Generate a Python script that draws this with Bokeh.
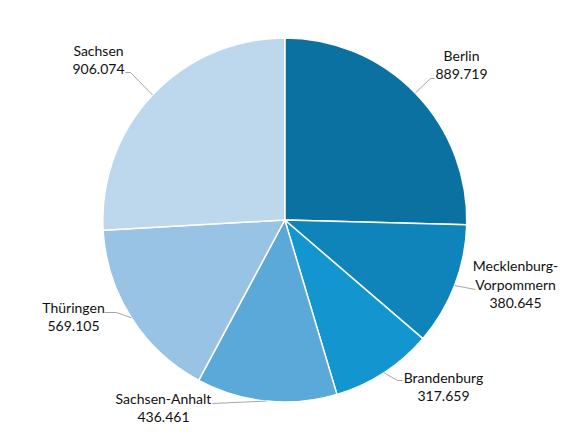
import numpy as np
from bokeh.core.properties import value
from bokeh.embed import file_html
from bokeh.models import ColumnDataSource, Range1d
from bokeh.plotting import figure
from bokeh.resources import INLINE

# Einwohner nach Bundesland
regions = ["Berlin", "Mecklenburg-Vorpommern", "Brandenburg", "Sachsen-Anhalt", "Thüringen", "Sachsen"]
label_lines = [["Berlin"], ["Mecklenburg-", "Vorpommern"], ["Brandenburg"], ["Sachsen-Anhalt"], ["Thüringen"], ["Sachsen"]]
values = [889719, 380645, 317659, 436461, 569105, 906074]
colors = ["#0b71a0", "#0e84ba", "#1396cf", "#5aa9d9", "#98c3e5", "#bdd7ed"]

W, H = 572, 428


def px(x):
    return x


def py(y):
    return H - y


CX, CY, R = px(284.3), py(219.5), 182

# label layout (page pixel coords): first line centre, leader elbow, leader end
label_pos = [(461, 55), (515, 265), (443, 377), (163, 398), (73, 307), (98, 50)]
elbows = [(430, 78), (475, 289), (397, 380), (212, 403), (116, 312), (130, 72)]
ends = [(434, 78), (475, 289), (402, 380), (212, 403), (104, 312), (125, 72)]
LINE_H = 18.5

vals = np.array(values, dtype=float)
frac = vals / vals.sum()
cum = np.concatenate([[0], np.cumsum(frac)])
start = np.pi / 2 - cum[:-1] * 2 * np.pi
end = np.pi / 2 - cum[1:] * 2 * np.pi
mid = (start + end) / 2

src = ColumnDataSource(dict(start=start, end=end, color=colors, region=regions))

p = figure(width=W, height=H, x_range=Range1d(0, W), y_range=Range1d(0, H),
           output_backend="svg", toolbar_location=None, min_border=0)
p.axis.visible = False
p.grid.visible = False
p.outline_line_color = None

p.wedge(x=CX, y=CY, radius=R, start_angle="start", end_angle="end", direction="clock",
        fill_color="color", line_color="white", line_width=1.5, source=src)

FONT = value("Lato")
for i in range(len(regions)):
    ex = CX + R * np.cos(mid[i])
    ey = CY + R * np.sin(mid[i])
    p.line([ex, px(elbows[i][0]), px(ends[i][0])], [ey, py(elbows[i][1]), py(ends[i][1])],
           line_color="#a6a6a6", line_width=1)
    lines = label_lines[i] + [f"{values[i]:,}".replace(",", ".")]
    lx, ly = label_pos[i]
    for k, txt in enumerate(lines):
        p.text(x=[px(lx)], y=[py(ly + k * LINE_H)], text=[txt], text_font=FONT,
               text_font_size="14px", text_color="#111111", text_align="center",
               text_baseline="middle")

open("out.html", "w").write(file_html(p, INLINE))
